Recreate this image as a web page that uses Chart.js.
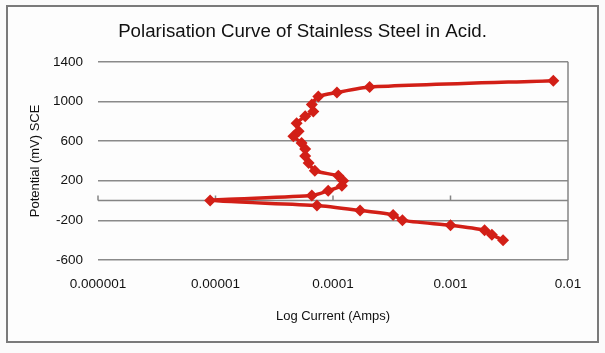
<!DOCTYPE html>
<html lang="en">
<head>
    <meta charset="UTF-8">
    <title>Polarisation Curve</title>
    <style>
        html, body { margin: 0; padding: 0; background: #fbfbfb; }
        body { width: 605px; height: 353px; position: relative; overflow: hidden; }
        .frame { position: absolute; left: 6px; top: 5px; width: 589px; height: 334px; border: 2px solid #7a7a7a; background: #fdfdfd; }
        #myChart { position: absolute; left: 0; top: 0; }
    </style>
</head>
<body>
<div class="frame"></div>
<canvas id="myChart" width="605" height="353"></canvas>

<script src="https://cdn.jsdelivr.net/npm/chart.js"></script>
<script>
    // values (cathodic end -> anodic end)
    const currentAmps = [0.0028, 0.00225, 0.00195, 0.001, 0.00039, 0.000325, 0.00017, 0.000073, 0.000009,
        0.000066, 0.000091, 0.000119, 0.000122, 0.000111, 0.00007, 0.000062, 0.000058, 0.000058, 0.000054,
        0.000046, 0.000051, 0.000049, 0.000058, 0.000068, 0.000066, 0.000075, 0.000108, 0.000205, 0.0075];
    const potentialMV = [-400, -345, -300, -250, -200, -145, -100, -50, 0,
        50, 100, 150, 200, 250, 300, 380, 450, 520, 580,
        650, 700, 780, 850, 900, 970, 1050, 1090, 1145, 1210];

    const xTicks = [0.000001, 0.00001, 0.0001, 0.001, 0.01];
    const xTickLabels = ['0.000001', '0.00001', '0.0001', '0.001', '0.01'];
    const yTicks = [-600, -200, 200, 600, 1000, 1400];

    const red = '#d21f17';
    const font = "'Liberation Sans', Arial, sans-serif";

    // axis line through 0 mV with small tick marks, plus the right edge of the plot
    const zeroAxis = {
        id: 'zeroAxis',
        beforeDatasetsDraw(chart) {
            const {ctx, chartArea, scales} = chart;
            const y0 = scales.y.getPixelForValue(0);
            ctx.save();
            ctx.strokeStyle = '#858585';
            ctx.lineWidth = 1.5;
            ctx.beginPath();
            ctx.moveTo(chartArea.left, y0);
            ctx.lineTo(chartArea.right, y0);
            xTicks.forEach(v => {
                const x = scales.x.getPixelForValue(v);
                ctx.moveTo(x, y0);
                ctx.lineTo(x, y0 - 5);
            });
            ctx.moveTo(chartArea.right, chartArea.top);
            ctx.lineTo(chartArea.right, chartArea.bottom);
            ctx.stroke();
            ctx.restore();
        }
    };

    new Chart(document.getElementById('myChart'), {
        type: 'scatter',
        data: {
            datasets: [{
                label: 'Potential',
                data: currentAmps.map((c, i) => ({x: c, y: potentialMV[i]})),
                showLine: true,
                borderColor: red,
                backgroundColor: red,
                borderWidth: 3.5,
                tension: 0.2,
                pointStyle: 'rectRot',
                pointRadius: 6,
                pointBorderWidth: 0,
                pointBackgroundColor: red
            }]
        },
        options: {
            responsive: false,
            animation: false,
            layout: { padding: 0 },
            scales: {
                x: {
                    type: 'logarithmic',
                    min: 0.000001,
                    max: 0.01,
                    afterBuildTicks: scale => { scale.ticks = xTicks.map(v => ({value: v})); },
                    afterFit: scale => { scale.height = 93; },
                    grid: { display: false, drawTicks: false },
                    border: { display: false },
                    ticks: {
                        padding: 16,
                        color: '#111',
                        maxRotation: 0,
                        font: { family: font, size: 13.5 },
                        callback: (v, i) => xTickLabels[i]
                    },
                    title: {
                        display: true,
                        text: 'Log Current (Amps)',
                        color: '#111',
                        padding: { top: 29, bottom: 29 },
                        font: { family: font, size: 13 }
                    }
                },
                y: {
                    min: -600,
                    max: 1400,
                    afterBuildTicks: scale => { scale.ticks = yTicks.map(v => ({value: v})); },
                    afterFit: scale => { scale.width = 98; },
                    grid: { color: '#8a8a8a', lineWidth: 1.5, drawTicks: false },
                    border: { display: false },
                    ticks: {
                        padding: 15,
                        color: '#111',
                        font: { family: font, size: 13.5 },
                        callback: v => String(v)
                    },
                    title: {
                        display: true,
                        text: 'Potential (mV) SCE',
                        color: '#111',
                        padding: { top: 28, bottom: 10 },
                        font: { family: font, size: 13 }
                    }
                },
                // empty right-hand axis only to keep space on the right of the plot
                yRight: {
                    position: 'right',
                    min: -600,
                    max: 1400,
                    afterFit: scale => { scale.width = 37; },
                    grid: { display: false },
                    border: { display: false },
                    ticks: { display: false }
                }
            },
            plugins: {
                legend: { display: false },
                tooltip: { enabled: false },
                title: {
                    display: true,
                    text: 'Polarisation Curve of Stainless Steel in Acid.',
                    color: '#111',
                    padding: { top: 21, bottom: 18.4 },
                    font: { family: font, size: 18.7, weight: 'normal', lineHeight: 1.2 }
                }
            }
        },
        plugins: [zeroAxis]
    });
</script>
</body>
</html>
